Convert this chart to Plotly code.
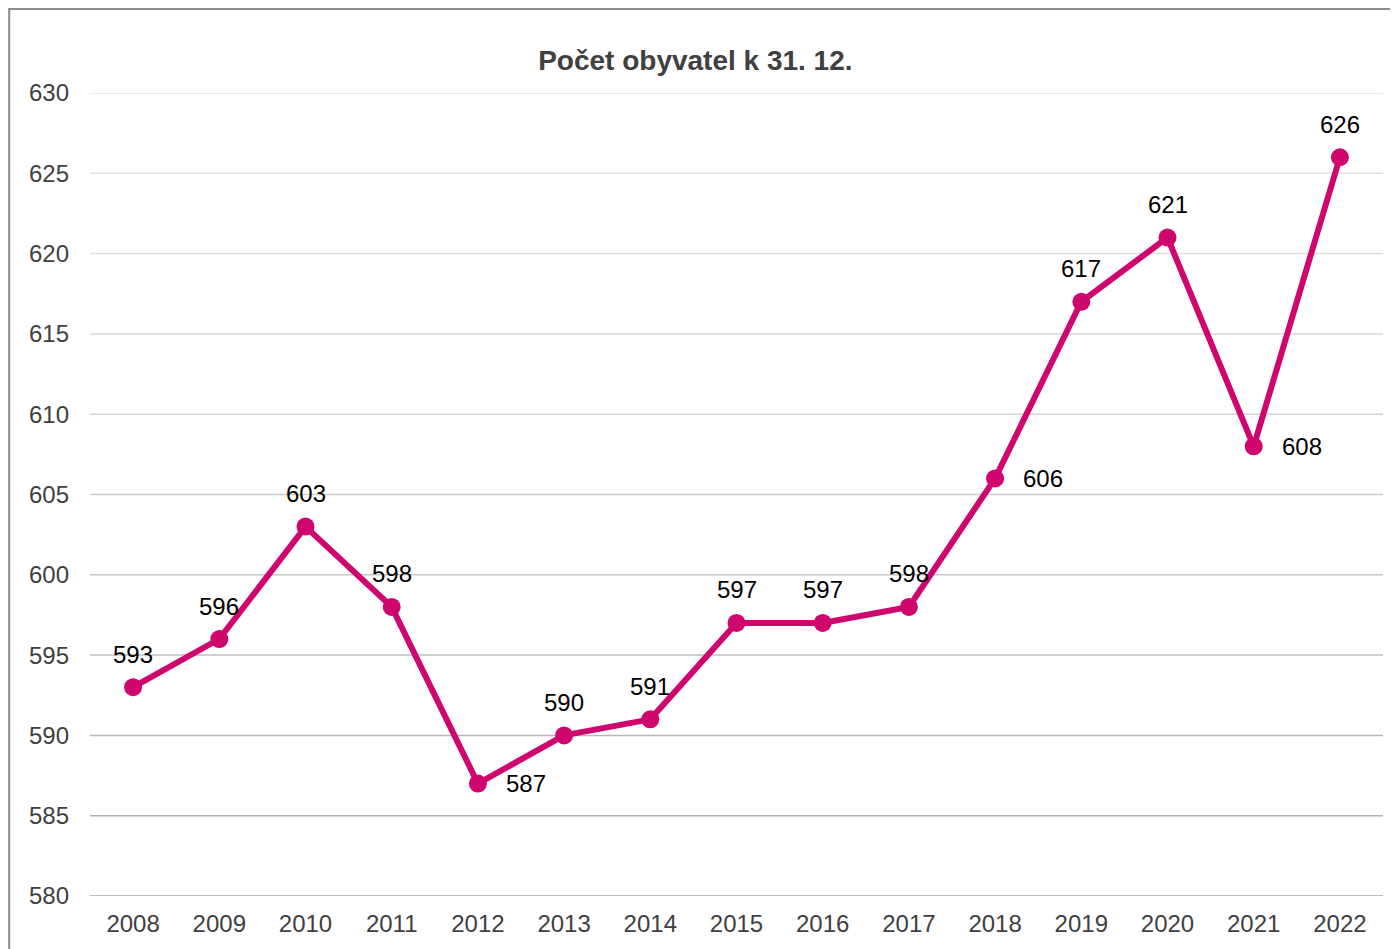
import plotly.graph_objects as go

years = ["2008", "2009", "2010", "2011", "2012", "2013", "2014", "2015",
         "2016", "2017", "2018", "2019", "2020", "2021", "2022"]
population = [593, 596, 603, 598, 587, 590, 591, 597, 597, 598, 606, 617, 621, 608, 626]
label_side = ["top", "top", "top", "top", "right", "top", "top", "top",
              "top", "top", "right", "top", "top", "right", "top"]
y_ticks = [580, 585, 590, 595, 600, 605, 610, 615, 620, 625, 630]

LINE = "#CE066E"
FONT = "Liberation Sans, Arial, sans-serif"

fig = go.Figure()
fig.add_trace(go.Scatter(
    x=years, y=population, mode="lines+markers",
    line=dict(color=LINE, width=6),
    marker=dict(color=LINE, size=18),
    hoverinfo="x+y", showlegend=False,
))

for i, (v, side) in enumerate(zip(population, label_side)):
    if side == "top":
        fig.add_annotation(x=i, y=v, text=str(v), showarrow=False,
                           xanchor="center", yanchor="middle", yshift=33,
                           font=dict(family=FONT, size=24, color="#000000"))
    else:
        fig.add_annotation(x=i, y=v, text=str(v), showarrow=False,
                           xanchor="left", yanchor="middle", xshift=26,
                           font=dict(family=FONT, size=24, color="#000000"))

# gridlines (darker toward the bottom)
grid_colors = ["#a8a8a8", "#b0b0b0", "#b8b8b8", "#bfbfbf", "#c6c6c6", "#cdcdcd",
               "#d3d3d3", "#d8d8d8", "#dddddd", "#e1e1e1", "#e5e5e5"]
for t, c in zip(y_ticks, grid_colors):
    fig.add_shape(type="line", xref="paper", yref="y", x0=0, x1=1, y0=t, y1=t,
                  line=dict(color=c, width=1.5), layer="below")

# outer chart border
fig.add_shape(type="rect", xref="paper", yref="paper",
              x0=-0.0625, x1=1.2, y0=-0.2, y1=1.1046,
              line=dict(color="#8c8c8c", width=2))

fig.update_layout(
    width=1390, height=941,
    margin=dict(l=82, r=15, t=85, b=53),
    paper_bgcolor="white", plot_bgcolor="white",
    title=dict(text="<b>Počet obyvatel k 31. 12.</b>", x=0.4945, xanchor="center",
               y=0.9447, yanchor="middle",
               font=dict(family=FONT, size=28, color="#404040")),
    xaxis=dict(type="category", range=[-0.5, 14.5], showgrid=False, showline=False,
               zeroline=False, ticks="", ticklabelstandoff=11,
               tickfont=dict(family=FONT, size=24, color="#404040")),
    yaxis=dict(range=[580, 630], tickvals=y_ticks, showgrid=False, showline=False,
               zeroline=False, ticks="", ticklabelstandoff=20,
               tickfont=dict(family=FONT, size=24, color="#404040")),
)

fig.write_html("out.html")
